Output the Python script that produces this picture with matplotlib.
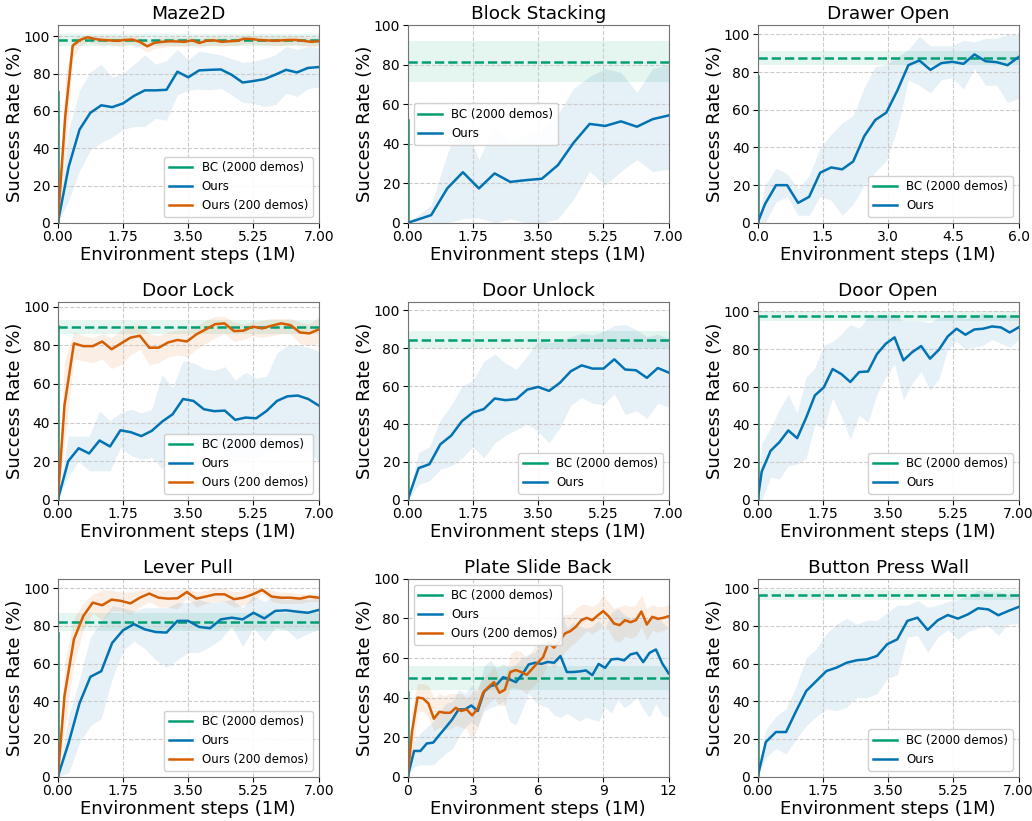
import numpy as np
import matplotlib
matplotlib.use("Agg")
import matplotlib.pyplot as plt

BLUE = "#0173b2"
ORANGE = "#d55e00"
GREEN = "#029e73"

# ---------------- Maze2D ----------------
maze_x = np.linspace(0, 7, 25)
maze_ours = [0, 30, 50, 59, 63, 62, 64, 68, 71, 71, 71.3, 81, 78, 81.7, 82, 82.2, 79.3, 75.2, 76, 77, 79.4, 82, 80.6, 83, 83.5]
maze_ours_lo = [0, 12, 28, 39, 43, 46, 50, 51.6, 51.6, 56, 55, 68.6, 71, 71.7, 71.3, 72, 68.6, 64.5, 64, 62.4, 63.3, 69.5, 67.7, 72, 72.8]
maze_ours_hi = [0, 50, 71, 81, 85, 78, 80, 85, 90, 85, 87, 93, 87.5, 92, 91, 90, 88, 86, 86.6, 88, 90, 94.6, 93, 94.6, 93.7]
maze_x200 = np.linspace(0, 7, 36)
maze_ours200 = [0, 57, 95, 98, 99.5, 98.5, 98, 97.8, 97.5, 98, 98.2, 97, 94.6, 96.5, 97, 97.3, 97.2, 97, 97.8, 96.4, 97.6, 97.8, 97, 97.3,
                97.5, 98.7, 98.5, 98, 97.8, 97.6, 97.8, 98, 98, 97.5, 97, 97.3]
maze_ours200_lo = [0, 38, 88, 95, 97, 96, 95.5, 95.5, 95, 95.5, 95.8, 94, 91.5, 93.5, 94, 94.5, 94.5, 94.5, 95, 94, 95, 95, 94.5, 95,
                   95, 96, 96, 95.5, 95.3, 95, 95.2, 95.5, 95.5, 95, 94.3, 94.5]
maze_ours200_hi = [0, 78, 99, 100, 100.5, 100, 100, 99.8, 99.7, 100, 100, 99.5, 97.5, 99, 99.3, 99.5, 99.4, 99.3, 99.8, 98.8, 99.6, 99.8, 99.4, 99.5,
                   99.6, 100.5, 100.3, 100, 99.8, 99.7, 99.8, 100, 100, 99.6, 99.3, 99.5]
maze_bc, maze_bc_lo, maze_bc_hi, maze_bc_tick = 98, 95, 101, 70

# ---------------- Block Stacking ----------------
block_x = [0, 0.21, 0.63, 1.06, 1.48, 1.91, 2.33, 2.75, 3.18, 3.6, 4.03, 4.45, 4.88, 5.3, 5.72, 6.15, 6.57, 7.0]
block_ours = [0, 1.3, 3.9, 17.4, 25.6, 17.4, 25, 20.7, 21.6, 22.3, 29.2, 40.5, 50, 49, 51.3, 48.6, 52.4, 54.3]
block_ours_lo = [0, 0, 0, 0, 2, 2.5, 0, 2, 0, 0, 2, 12, 26, 19, 26, 32, 26, 27]
block_ours_hi = [0, 3, 9, 35, 52, 32, 50, 40, 45, 47, 55, 68, 74, 78, 76, 66, 78, 80]
block_bc, block_bc_lo, block_bc_hi, block_bc_tick = 81.5, 71, 92, 52

# ---------------- Drawer Open ----------------
drawer_x = np.concatenate([[0], np.linspace(0.17, 6, 24)])
drawer_ours = [0, 10, 20, 20, 10.6, 13.8, 26.6, 29.4, 28.4, 32.6, 46, 54.6, 58.5, 70.2, 83.7, 86.2, 81.2, 84.8, 85.5, 84.4, 89.4, 85.8, 85.3, 83.7, 88]
drawer_ours_lo = [0, 0, 11, 14, 4, 4, 14, 12, 4, 10, 20, 27, 33, 50, 76, 73, 69, 76, 77, 71, 82, 73, 73, 64, 66]
drawer_ours_hi = [0, 20, 29, 26, 18, 25, 40, 47, 53, 57, 72, 83, 84, 88, 92, 99, 94, 94, 94, 97, 96, 98, 98, 100, 100]
drawer_bc, drawer_bc_lo, drawer_bc_hi, drawer_bc_tick = 87.5, 84, 91, 78

# ---------------- Door Lock ----------------
lock_x = np.linspace(0, 7, 26)
lock_ours = [0, 20, 26.7, 24, 30.7, 27.6, 36, 35, 33, 35.7, 40.5, 44.3, 52.2, 51.2, 46.9, 45.9, 46.2, 41.4, 42.6, 42.2, 46, 51.2, 53.6, 54, 52.2, 48.8]
lock_ours_lo = [0, 12, 20, 15, 15, 15, 27, 23, 21, 22, 16, 28, 32, 31, 23, 28, 26, 21, 21, 21, 26, 26, 28, 27, 25, 20]
lock_ours_hi = [0, 33, 33, 33, 46, 41, 45, 47, 45, 47, 65, 58, 72, 71, 68, 67, 69, 62, 66, 63, 64, 76, 80, 80, 79, 77]
lock_x200 = np.concatenate([[0], np.linspace(0.18, 7, 28)])
lock_ours200 = [0, 49, 81, 79.6, 79.6, 82, 78, 81, 84, 85, 78.8, 78.8, 81.5, 82.8, 82, 85.7, 88.3, 91, 91.4, 87.4, 87.6, 89.7, 88.8, 90.2,
                91.4, 90.5, 86.7, 86.2, 88.3]
lock_ours200_lo = [0, 30, 73, 72, 71, 73, 68, 70, 75, 78, 70, 71, 74, 75, 74, 78, 81, 84, 86, 82, 83, 85, 84, 85, 86, 86, 81, 80, 81]
lock_ours200_hi = [0, 72, 87, 85, 84, 86, 84, 88, 90, 91, 86, 85, 87, 88, 88, 90, 93, 95, 95, 92, 91, 92, 93, 94, 94, 94, 92, 91, 95]
lock_bc, lock_bc_lo, lock_bc_hi, lock_bc_tick = 89.5, 86, 93, 90

# ---------------- Door Unlock ----------------
unlock_x = np.linspace(0, 7, 25)
unlock_ours = [0, 16.7, 18.8, 29.3, 33.9, 41.6, 46.1, 47.9, 53.5, 52.6, 53.2, 58.2, 59.6, 57.5, 61.8, 67.9, 71, 69.3, 69.3, 74.2, 68.8, 68.4, 64.4, 69.6, 67.2]
unlock_ours_lo = [0, 8, 10, 16, 18, 22, 28, 22, 30, 34, 37, 40, 36, 30, 38, 50, 54, 51, 50, 56, 45, 47, 43, 51, 49]
unlock_ours_hi = [0, 25, 28, 42, 50, 60, 63, 73, 77, 72, 69, 76, 84, 83, 84, 86, 88, 87, 89, 92, 92.5, 90, 86, 87.5, 85]
unlock_bc, unlock_bc_lo, unlock_bc_hi, unlock_bc_tick = 84.5, 80, 89, 84

# ---------------- Door Open ----------------
open_x = np.concatenate([[0], np.linspace(0.11, 7, 30)])
open_ours = [0, 15, 26, 30.6, 36.8, 32.7, 43.4, 55.4, 59.6, 69.4, 66.7, 62.5, 67.8, 68.1, 77.3, 82.8, 86.2, 74, 78.4, 81.6, 74.9, 79.6,
             86.7, 90.8, 87.6, 90.4, 90.8, 92, 91.5, 88.8, 91.5]
open_ours_lo = [0, 0, 12, 11, 18, 19, 22, 40, 38, 54, 44, 32, 45, 41, 56, 65, 72, 53, 62, 68, 58, 64, 80, 84, 80, 81, 82, 85, 83, 81, 85]
open_ours_hi = [0, 30, 38, 48, 56, 46, 65, 70, 82, 84, 88, 93, 91, 97, 98, 98, 98, 95, 95, 95, 94, 97, 98, 98, 96, 98, 99, 98, 98, 98, 98]
open_bc, open_bc_lo, open_bc_hi, open_bc_tick = 97.5, 95, 100, 97

# ---------------- Lever Pull ----------------
lever_x = np.linspace(0, 7, 25)
lever_ours = [0, 18, 39, 53, 56, 71, 77.7, 81, 78.2, 76.8, 76.5, 82.7, 82.7, 79.5, 78.8, 83.5, 84.4, 83.5, 87, 84, 88, 88.3, 87.6, 87, 88.5]
lever_ours_lo = [0, 2, 18, 27, 31, 52, 67, 72, 68, 62, 58, 62, 66, 66, 69, 73, 80, 69, 79, 72, 79, 78, 73, 76, 78]
lever_ours_hi = [0, 32, 52, 74, 82.6, 90.6, 89.7, 88, 89.7, 89.7, 89.7, 92.4, 92.4, 94, 92.4, 93, 94, 89.7, 96, 93, 96, 94, 95, 94, 95]
lever_x200 = np.concatenate([[0], np.linspace(0.18, 7, 28)])
lever_ours200 = [0, 43, 73, 85.3, 92.4, 91, 94, 93.3, 92, 95, 97.2, 95, 94.5, 94.7, 98, 94.5, 95.6, 96.8, 96.8, 94.2, 95, 96.8, 99.1,
                 95.6, 95, 95, 94.5, 95.6, 95]
lever_ours200_lo = [0, 25, 60, 78, 87, 83, 88, 88, 86, 90, 93, 90, 90, 89, 95, 90, 92, 93, 93, 90, 91, 93, 97, 93, 92, 92, 92, 93, 93]
lever_ours200_hi = [0, 60, 84, 92, 97, 99, 99, 98, 98, 99, 100, 99, 99, 99, 100, 98, 99, 100, 100, 98, 99, 100, 100, 99, 98, 98, 97, 97, 97]
lever_bc, lever_bc_lo, lever_bc_hi, lever_bc_tick = 82, 77.5, 87, 76

# ---------------- Plate Slide Back ----------------
plate_x = np.linspace(0, 12, 42)
plate_ours = [0, 13, 13, 16.8, 17.2, 21.2, 25, 29, 34, 34, 36, 33.2, 43, 45.8, 46.6, 50.3, 49.2, 47.8, 51.7, 56.7, 57.6, 57, 58, 57.6,
              61, 52.9, 52.9, 53.2, 53.7, 51.3, 57, 55, 59.3, 59.6, 58.8, 61.8, 62.6, 57.9, 62.6, 64.3, 57.2, 52.2]
plate_ours_lo = [0, 5, 6, 6, 6, 9, 12, 14, 20, 25, 28, 25, 33, 35, 36, 38, 28, 26, 34, 42, 38, 36, 35, 31, 30, 32, 30, 28, 30, 29,
                 28, 35, 32, 39, 35, 37, 40, 34, 30, 37, 31, 30]
plate_ours_hi = [0, 18, 22, 25, 28, 33, 37, 38, 44, 42, 46, 43, 56, 59, 55, 57, 55, 57, 60, 62, 63, 68, 73, 80, 85, 75, 78, 76, 75, 76,
                 79, 75, 83, 85, 82, 80, 80, 79, 80, 82, 78, 75]
plate_x200 = np.concatenate([[0], np.linspace(0.2, 12, 48)])
plate_ours200 = [0, 23, 40, 39.6, 37, 29.3, 32.8, 32.3, 32.3, 34.8, 33.2, 34, 31, 34.3, 42.4, 45.3, 47.8, 42.4, 44, 52.9, 53.9, 52.9,
                 51.5, 54.5, 57.6, 60.4, 67.7, 65.2, 68.5, 72.4, 73.6, 75.8, 79.1, 80.3, 79.1, 81.5, 83.7, 81.1, 77.4, 76.6, 79.1,
                 78.1, 79.1, 83.5, 76.9, 80.8, 79.8, 80.3, 81.1]
plate_ours200_lo = [0, 10, 33, 33, 30, 23, 25, 24, 24, 26, 25, 24, 18, 25, 34, 37, 40, 36, 36, 45, 45, 44, 42, 45, 48, 52, 58, 55, 59,
                    63, 66, 68, 71, 74, 72, 74, 76, 74, 69, 68, 71, 70, 71, 76, 69, 74, 73, 74, 75]
plate_ours200_hi = [0, 35, 47, 47, 46, 40, 42, 41, 42, 42, 42, 40, 42, 45, 50, 52, 56, 50, 50, 62, 64, 63, 60, 64, 68, 70, 76, 76, 79,
                    82, 82, 85, 87, 87, 86, 88, 92, 88, 85, 86, 87, 86, 87, 92, 85, 87, 86, 86, 87]
plate_bc, plate_bc_lo, plate_bc_hi, plate_bc_tick = 50, 44, 56, 43

# ---------------- Button Press Wall ----------------
button_x = np.concatenate([[0], np.linspace(0.22, 7, 26)])
button_ours = [0, 18.4, 23.7, 23.7, 34.9, 45.5, 50.8, 56.1, 57.9, 60.5, 61.8, 62.3, 64.1, 70.3, 72.9, 82.7, 84.4, 77.9, 83, 85.8, 83.9,
               86.2, 89.4, 88.8, 85.7, 88, 90.1]
button_ours_lo = [0, 10, 15, 12, 20, 27, 32, 36, 35, 37, 42, 42, 44, 52, 54, 74, 75, 66, 74, 78, 73, 77, 79, 80, 75, 81, 81]
button_ours_hi = [0, 25, 32, 36, 48, 63, 68, 76, 81, 84, 81, 83, 83, 87, 91, 91, 93.5, 90, 91, 93, 94, 96, 99, 98, 98, 97, 97]
button_bc, button_bc_lo, button_bc_hi, button_bc_tick = 96.5, 94, 99, 96


def draw_panel(ax, title, x, ours, lo, hi, bc, bc_lo, bc_hi, bc_tick, xmax, ytop, xticks, fmt,
               legend_loc, x200=None, ours200=None, lo200=None, hi200=None):
    ax.axhspan(bc_lo, bc_hi, color=GREEN, alpha=0.1, lw=0)
    ax.plot([0, 0], [0, bc_tick], color=GREEN, lw=1.8, label="BC (2000 demos)")
    ax.axhline(bc, color=GREEN, lw=1.8, ls="--")
    ax.fill_between(x, lo, hi, color=BLUE, alpha=0.1, lw=0)
    ax.plot(x, ours, color=BLUE, lw=1.8, label="Ours")
    if x200 is not None:
        ax.fill_between(x200, lo200, hi200, color=ORANGE, alpha=0.1, lw=0)
        ax.plot(x200, ours200, color=ORANGE, lw=1.8, label="Ours (200 demos)")
    ax.set_xlim(0, xmax)
    ax.set_ylim(0, ytop)
    ax.set_xticks(xticks)
    ax.set_xticklabels([fmt.format(t) for t in xticks])
    ax.set_yticks([0, 20, 40, 60, 80, 100])
    ax.tick_params(labelsize=10, pad=2)
    ax.grid(True, ls="--", color="0.8", lw=0.8)
    for s in ax.spines.values():
        s.set_color("0.45")
    ax.set_title(title, fontsize=13.3, pad=4)
    ax.set_xlabel("Environment steps (1M)", fontsize=13, labelpad=1)
    ax.set_ylabel("Success Rate (%)", fontsize=13, labelpad=0)
    ax.legend(loc=legend_loc, fontsize=8.5, framealpha=0.9)


fig, axes = plt.subplots(3, 3, figsize=(10.32, 8.21), dpi=100)
fig.subplots_adjust(left=0.056, right=0.987, bottom=0.054, top=0.9695, wspace=0.341, hspace=0.40)

t7 = [0, 1.75, 3.5, 5.25, 7]
draw_panel(axes[0, 0], "Maze2D", maze_x, maze_ours, maze_ours_lo, maze_ours_hi,
           maze_bc, maze_bc_lo, maze_bc_hi, maze_bc_tick, 7, 106, t7, "{:.2f}", "lower right",
           maze_x200, maze_ours200, maze_ours200_lo, maze_ours200_hi)
draw_panel(axes[0, 1], "Block Stacking", block_x, block_ours, block_ours_lo, block_ours_hi,
           block_bc, block_bc_lo, block_bc_hi, block_bc_tick, 7, 100, t7, "{:.2f}", "center left")
draw_panel(axes[0, 2], "Drawer Open", drawer_x, drawer_ours, drawer_ours_lo, drawer_ours_hi,
           drawer_bc, drawer_bc_lo, drawer_bc_hi, drawer_bc_tick, 6, 105, [0, 1.5, 3, 4.5, 6], "{:.1f}", "lower right")
draw_panel(axes[1, 0], "Door Lock", lock_x, lock_ours, lock_ours_lo, lock_ours_hi,
           lock_bc, lock_bc_lo, lock_bc_hi, lock_bc_tick, 7, 102.5, t7, "{:.2f}", "lower right",
           lock_x200, lock_ours200, lock_ours200_lo, lock_ours200_hi)
draw_panel(axes[1, 1], "Door Unlock", unlock_x, unlock_ours, unlock_ours_lo, unlock_ours_hi,
           unlock_bc, unlock_bc_lo, unlock_bc_hi, unlock_bc_tick, 7, 104.5, t7, "{:.2f}", "lower right")
draw_panel(axes[1, 2], "Door Open", open_x, open_ours, open_ours_lo, open_ours_hi,
           open_bc, open_bc_lo, open_bc_hi, open_bc_tick, 7, 105, t7, "{:.2f}", "lower right")
draw_panel(axes[2, 0], "Lever Pull", lever_x, lever_ours, lever_ours_lo, lever_ours_hi,
           lever_bc, lever_bc_lo, lever_bc_hi, lever_bc_tick, 7, 105, t7, "{:.2f}", "lower right",
           lever_x200, lever_ours200, lever_ours200_lo, lever_ours200_hi)
draw_panel(axes[2, 1], "Plate Slide Back", plate_x, plate_ours, plate_ours_lo, plate_ours_hi,
           plate_bc, plate_bc_lo, plate_bc_hi, plate_bc_tick, 12, 100, [0, 3, 6, 9, 12], "{:.0f}", "upper left",
           plate_x200, plate_ours200, plate_ours200_lo, plate_ours200_hi)
draw_panel(axes[2, 2], "Button Press Wall", button_x, button_ours, button_ours_lo, button_ours_hi,
           button_bc, button_bc_lo, button_bc_hi, button_bc_tick, 7, 105, t7, "{:.2f}", "lower right")

fig.savefig("out.png", dpi=100)
